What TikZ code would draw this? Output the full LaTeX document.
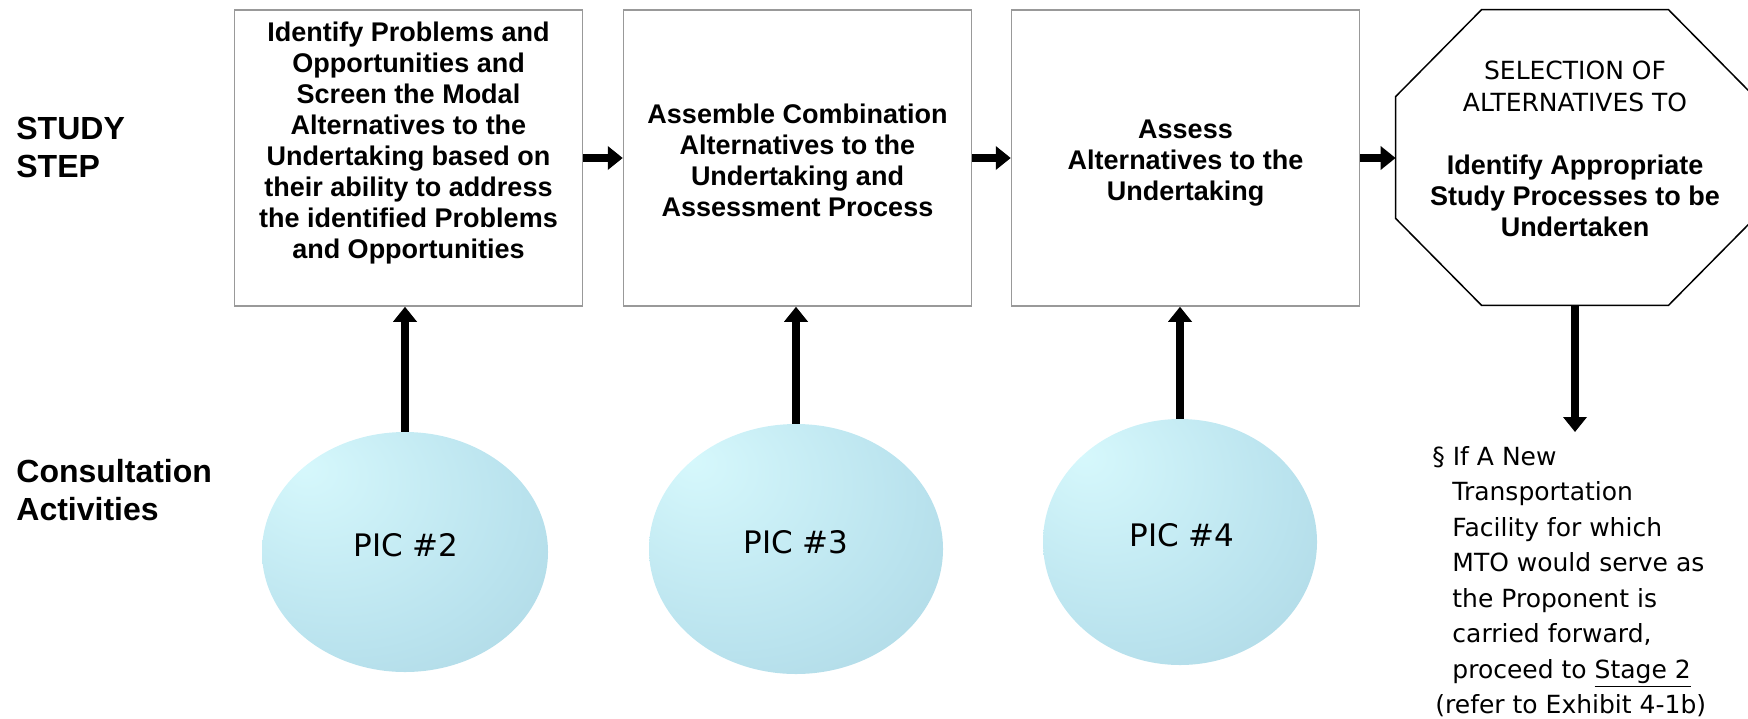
\documentclass[tikz,border=0pt]{standalone}
\usepackage{fontspec}
\setmainfont{Liberation Sans}
\newfontfamily\tahomafont{DejaVu Sans}
\usetikzlibrary{calc, shapes, arrows.meta}
\definecolor{picHi}{RGB}{214,248,252}
\definecolor{picMid}{RGB}{186,227,238}
\definecolor{picLow}{RGB}{166,208,222}
\definecolor{picEdge}{RGB}{132,176,191}
\pgfdeclareradialshading{picshade}{\pgfpoint{-18bp}{18bp}}{color(0bp)=(picHi); color(30bp)=(picMid); color(55bp)=(picLow); color(72bp)=(picEdge)}

\begin{document}
\begin{tikzpicture}[x=0.5pt, y=-0.5pt,
	stepbox/.style={draw=black!40, line width=0.75pt, minimum width=174pt, minimum height=148pt, inner sep=0pt},
	steptext/.style={align=center, font=\myfontstep, inner sep=0pt},
	rowlabel/.style={anchor=north west, align=left, font=\myfontlabel, inner sep=0pt},
	picball/.style={ellipse, shade, shading=picshade, inner sep=0pt},
	flowarrow/.style={line width=4pt, -{Triangle[width=11.5pt, length=7.5pt]}}]
	\newcommand{\myfontstep}{\fontsize{13.5}{15.5}\selectfont\bfseries}
	\newcommand{\myfontlabel}{\fontsize{16}{19}\selectfont\bfseries}
	\newcommand{\myfontcaps}{\tahomafont\fontsize{12.5}{16}\selectfont}
	\newcommand{\myfontpic}{\tahomafont\fontsize{15.5}{18}\selectfont}
	\newcommand{\myfontnote}{\tahomafont\fontsize{12.5}{17.75}\selectfont}
	%Frame of the picture
	\useasboundingbox (0,0) rectangle (1748,718);
	%Row labels
	\node [rowlabel] (studystep) at (16,117) {STUDY\\STEP};
	\node [rowlabel] (consult) at (16,459) {Consultation\\Activities};
	%Study steps
	\node [stepbox] (box1) at (408.5,158) {};
	\node [steptext] (box1text) at (408.5,143.5) {Identify Problems and\\Opportunities and\\Screen the Modal\\Alternatives to the\\Undertaking based on\\their ability to address\\the identified Problems\\and Opportunities};
	\node [stepbox] (box2) at (797.5,158) {};
	\node [steptext] (box2text) at (797.5,160.5) {Assemble Combination\\Alternatives to the\\Undertaking and\\Assessment Process};
	\node [stepbox] (box3) at (1185.5,158) {};
	\node [steptext] (box3text) at (1185.5,163) {Assess\\Alternatives to the\\Undertaking};
	%Octagon of the selection
	\node [minimum width=179pt, minimum height=147.5pt, inner sep=0pt] (oct) at (1575,157.5) {};
	\draw [line width=0.75pt] ($(oct.north west)+(86,0)$) -- ($(oct.north east)+(-86,0)$)
		-- ($(oct.north east)+(0,87)$) -- ($(oct.south east)+(0,-87)$)
		-- ($(oct.south east)+(-86,0)$) -- ($(oct.south west)+(86,0)$)
		-- ($(oct.south west)+(0,-87)$) -- ($(oct.north west)+(0,87)$) -- cycle;
	\node [align=center, font=\myfontcaps, inner sep=0pt] (octcaps) at (1575,86) {SELECTION OF\\ALTERNATIVES TO};
	\node [steptext] (octtext) at (1575,195.5) {Identify Appropriate\\Study Processes to be\\Undertaken};
	%Consultation circles
	\node [picball, minimum width=143pt, minimum height=120pt] (pic2) at (405,552) {};
	\node [font=\myfontpic, inner sep=0pt] (pic2text) at (406,545) {PIC \#2};
	\node [picball, minimum width=147pt, minimum height=125pt] (pic3) at (796,549) {};
	\node [font=\myfontpic, inner sep=0pt] (pic3text) at (796,542) {PIC \#3};
	\node [picball, minimum width=137pt, minimum height=123pt] (pic4) at (1180,542) {};
	\node [font=\myfontpic, inner sep=0pt] (pic4text) at (1182,535) {PIC \#4};
	%Note below the octagon
	\node [anchor=north west, align=left, font=\myfontnote, inner sep=0pt] (note) at (1432,446) {§ If A New\\\hspace*{10pt}Transportation\\\hspace*{10pt}Facility for which\\\hspace*{10pt}MTO would serve as\\\hspace*{10pt}the Proponent is\\\hspace*{10pt}carried forward,\\\hspace*{10pt}proceed to \underline{Stage 2}\\\hspace*{1.5pt}(refer to Exhibit 4-1b)};
	\coordinate (notetip) at (1575,432);
	%Arrows
	\draw [flowarrow] (box1) -- (box2);
	\draw [flowarrow] (box2) -- (box3);
	\draw [flowarrow] (box3.east) -- (box3.east -| oct.west);
	\draw [flowarrow] (oct.south) -- (notetip);
	\foreach \p/\b in {pic2/box1, pic3/box2, pic4/box3} {
		\draw [flowarrow] (\p.north) -- (\p.north |- \b.south);
	}
\end{tikzpicture}
\end{document}
